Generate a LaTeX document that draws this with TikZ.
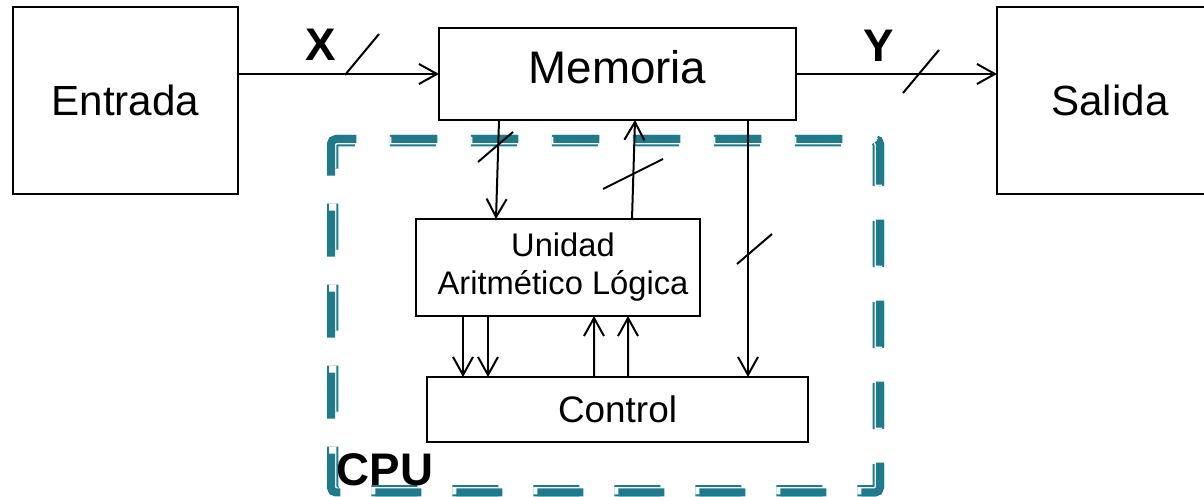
\documentclass[tikz,border=0pt]{standalone}
\usepackage{fontspec}
\setmainfont{Liberation Sans}
\usetikzlibrary{arrows.meta}
\definecolor{cputeal}{RGB}{31,122,140}

\begin{document}
\begin{tikzpicture}[
    bloque/.style={draw, line width=0.04cm, inner sep=0, outer sep=0},
    flecha/.style={line width=0.04cm, -{Straight Barb[length=0.36cm,width=0.4cm,line width=0.04cm]}},
    bus/.style={line width=0.04cm},
    guion/.style={dash pattern=on 0.92cm off 0.70cm},
    etiqueta/.style={inner sep=0, font=\bfseries\fontsize{26}{31}\selectfont}
  ]
    \useasboundingbox (0,0) rectangle (24.08,9.94);
    % CPU (linea doble discontinua)
    \draw[guion, cputeal, line width=0.226cm, rounded corners=0.08cm] (6.653,6.534) -- (6.653,7.127) -- (17.567,7.127) -- (17.567,0.123) -- (6.653,0.123) -- cycle;
    \draw[guion, white, line width=0.146cm, rounded corners=0.08cm] (6.653,6.534) -- (6.653,7.127) -- (17.567,7.127) -- (17.567,0.123) -- (6.653,0.123) -- cycle;
    \draw[guion, cputeal, line width=0.16cm, rounded corners=0.1cm] (6.62,6.60) -- (6.62,7.16) -- (17.60,7.16) -- (17.60,0.09) -- (6.62,0.09) -- cycle;
    % bloques
    \node[bloque, minimum width=4.5cm, minimum height=3.74cm, font=\fontsize{24}{29}\selectfont] (entrada) at (2.51,7.93) {Entrada};
    \node[bloque, minimum width=7.14cm, minimum height=1.84cm, text depth=0.3cm, font=\fontsize{26}{31}\selectfont] (memoria) at (12.35,8.46) {Memoria};
    \node[bloque, minimum width=4.52cm, minimum height=3.74cm, font=\fontsize{24}{29}\selectfont] (salida) at (22.2,7.93) {Salida};
    \node[bloque, minimum width=5.68cm, minimum height=1.94cm, align=center, font=\fontsize{18.6}{21.6}\selectfont] (alu) at (11.16,4.59) {\hspace*{0.2cm}Unidad\\\hspace*{0.2cm}Aritmético Lógica};
    \node[bloque, minimum width=7.62cm, minimum height=1.30cm, font=\fontsize{21}{25}\selectfont] (control) at (12.35,1.75) {Control};
    % flechas
    \draw[flecha] (entrada.east |- memoria.west) -- (memoria.west);
    \draw[flecha] (memoria.east) -- (memoria.east -| salida.west);
    \draw[flecha] ([xshift=-2.37cm]memoria.south) -- ([xshift=-1.24cm]alu.north);
    \draw[flecha] ([xshift=1.48cm]alu.north) -- ([xshift=0.35cm]memoria.south);
    \draw[flecha] ([xshift=2.61cm]memoria.south) -- ([xshift=2.61cm]control.north);
    \draw[flecha] ([xshift=-1.90cm]alu.south) -- ([xshift=-3.09cm]control.north);
    \draw[flecha] ([xshift=-1.40cm]alu.south) -- ([xshift=-2.59cm]control.north);
    \draw[flecha] ([xshift=-0.47cm]control.north) -- ([xshift=0.72cm]alu.south);
    \draw[flecha] ([xshift=0.21cm]control.north) -- ([xshift=1.40cm]alu.south);
    % marcas de bus
    \draw[bus] (6.90,8.44) -- (7.58,9.26);
    \draw[bus] (18.06,8.08) -- (18.78,8.94);
    \draw[bus] (9.56,6.70) -- (10.26,7.30);
    \draw[bus] (12.06,6.16) -- (13.26,6.76);
    \draw[bus] (14.74,4.66) -- (15.44,5.26);
    % etiquetas
    \node[etiqueta] (x) at (6.42,9.04) {X};
    \node[etiqueta] (y) at (17.58,9.02) {Y};
    \node[etiqueta] (cpu) at (7.70,0.55) {CPU};
\end{tikzpicture}
\end{document}
